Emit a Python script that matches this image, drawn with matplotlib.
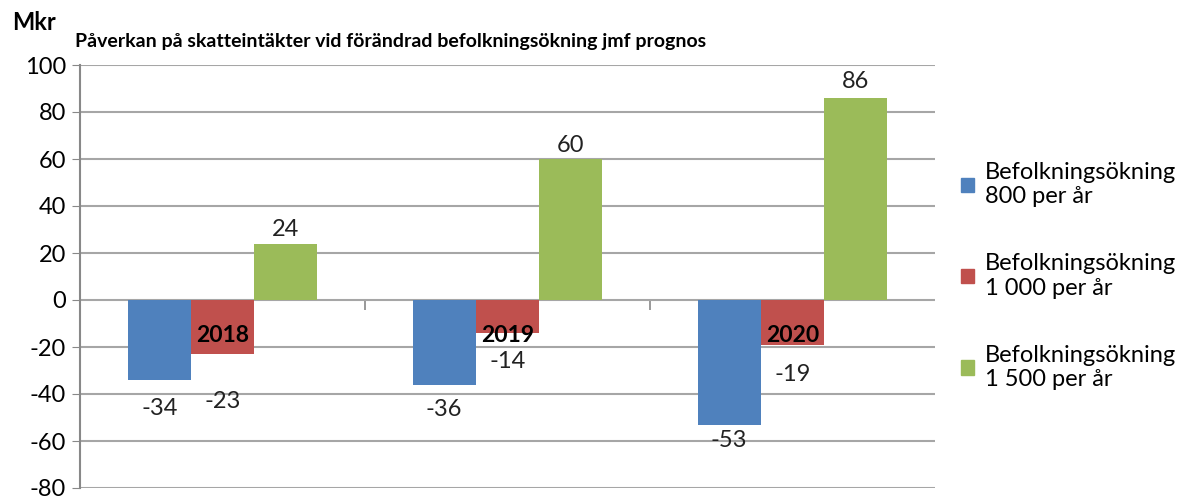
import matplotlib
matplotlib.use("Agg")
import matplotlib.pyplot as plt
from matplotlib.patches import Patch
import numpy as np

plt.rcParams['font.family'] = ['Lato', 'DejaVu Sans']
plt.rcParams['axes.unicode_minus'] = False

# Data
years = ['2018', '2019', '2020']
series_names = ['Befolkningsökning\n800 per år',
                'Befolkningsökning\n1 000 per år',
                'Befolkningsökning\n1 500 per år']
values_800 = [-34, -36, -53]
values_1000 = [-23, -14, -19]
values_1500 = [24, 60, 86]
yticks = [-80, -60, -40, -20, 0, 20, 40, 60, 80, 100]

colors = ['#4F81BD', '#C0504D', '#9BBB59']
# vertical pixel offsets for the value labels (as placed in the original)
label_offsets = [
    [-29, -25, -16],
    [-47, -29, -30],
    [14, 14, 16],
]

fig = plt.figure(figsize=(11.95, 4.99), dpi=100)
ax = fig.add_axes([80 / 1195, 1 - 488 / 499, (935 - 80) / 1195, (488 - 65) / 499])

x = np.arange(len(years))
w = 0.222
all_series = [values_800, values_1000, values_1500]
for k, vals in enumerate(all_series):
    xs = x + (k - 1) * w
    ax.bar(xs, vals, width=w, color=colors[k], zorder=2)
    for xi, v, off in zip(xs, vals, label_offsets[k]):
        ax.annotate(str(v), (xi, v), xytext=(0, off), textcoords='offset pixels',
                    ha='center', va='center', fontsize=17, color='#222222', zorder=5)

# year labels at zero line
for xi, yr in zip(x, years):
    ax.annotate(yr, (xi, 0), xytext=(0, -36), textcoords='offset pixels',
                ha='center', va='center', fontsize=16.5, fontweight='bold', zorder=6)

ax.set_xlim(-0.5, 2.5)
ax.set_ylim(-80, 100)
ax.set_yticks(yticks)
ax.tick_params(axis='y', labelsize=17, length=6, color='#888888', pad=4)
ax.yaxis.grid(True, color='#A6A6A6', linewidth=1.5)
ax.set_axisbelow(True)

# category axis at zero with small separators
ax.spines['bottom'].set_position(('data', 0))
ax.spines['bottom'].set_visible(False)
ax.set_xticks([])
ax.set_xticks([0.5, 1.5], minor=True)
ax.tick_params(axis='x', which='minor', length=7, color='#888888', width=1.2)
ax.spines['top'].set_visible(False)
ax.spines['right'].set_visible(False)
ax.spines['left'].set_color('#888888')
ax.spines['left'].set_linewidth(1.5)

fig.text(12 / 1195, 1 - 22 / 499, 'Mkr', fontsize=17, fontweight='bold', va='center')
fig.text(75 / 1195, 1 - 42 / 499, 'Påverkan på skatteintäkter vid förändrad befolkningsökning jmf prognos',
         fontsize=14, fontweight='bold', va='center')

handles = [Patch(color=c) for c in colors]
fig.legend(handles, series_names, loc='center left', bbox_to_anchor=(940 / 1195, 1 - 276 / 499),
           frameon=False, fontsize=17, handlelength=0.55, handleheight=0.55,
           handletextpad=0.45, labelspacing=1.95)

fig.savefig('out.png', dpi=100)
